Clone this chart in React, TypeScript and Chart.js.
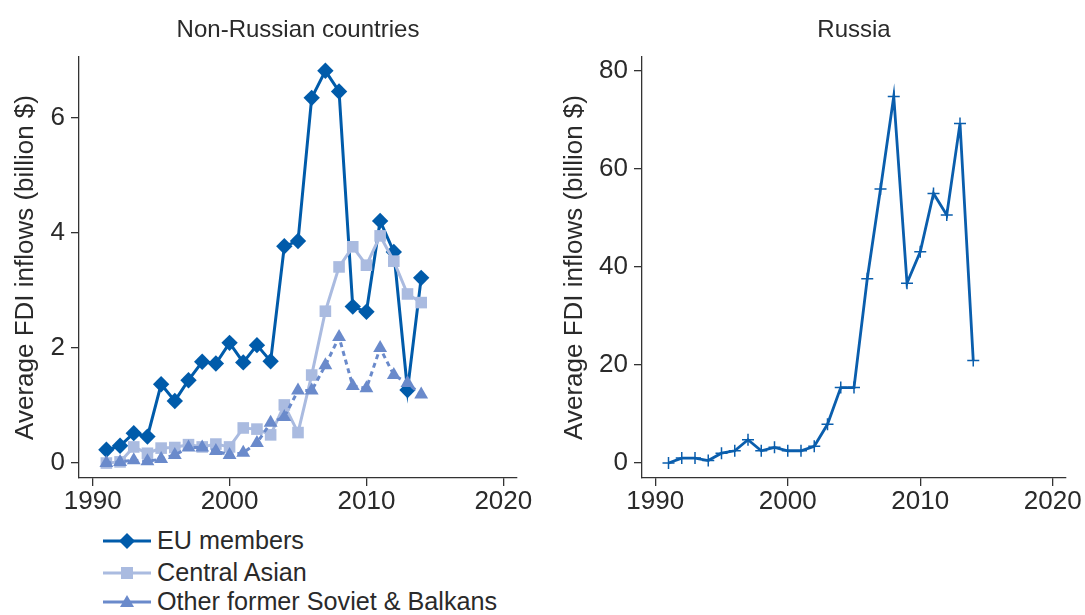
import React, { useEffect, useRef } from "react";
import { Chart, registerables } from "chart.js";

Chart.register(...registerables);

const years = [1991, 1992, 1993, 1994, 1995, 1996, 1997, 1998, 1999, 2000, 2001, 2002, 2003, 2004, 2005, 2006, 2007, 2008, 2009, 2010, 2011, 2012, 2013, 2014];
const euMembers = [0.23, 0.3, 0.52, 0.46, 1.37, 1.08, 1.44, 1.76, 1.73, 2.09, 1.75, 2.05, 1.77, 3.77, 3.86, 6.35, 6.82, 6.46, 2.72, 2.63, 4.21, 3.67, 1.27, 3.22];
const centralAsian = [0.0, 0.02, 0.28, 0.17, 0.26, 0.27, 0.32, 0.28, 0.33, 0.28, 0.61, 0.59, 0.49, 1.01, 0.53, 1.53, 2.64, 3.41, 3.76, 3.44, 3.95, 3.51, 2.94, 2.79];
const otherFormerSoviet = [0.0, 0.02, 0.05, 0.03, 0.07, 0.14, 0.27, 0.27, 0.21, 0.14, 0.18, 0.35, 0.7, 0.8, 1.26, 1.26, 1.7, 2.19, 1.34, 1.3, 2.0, 1.53, 1.39, 1.19];
const russia = [0.0, 1.0, 1.0, 0.5, 2.0, 2.5, 4.75, 2.5, 3.2, 2.5, 2.5, 3.4, 7.9, 15.4, 15.4, 37.6, 55.9, 74.8, 36.7, 43.1, 55.0, 50.6, 69.3, 20.9];

const xTickValues = [1990, 2000, 2010, 2020];
const leftYTicks = [0, 2, 4, 6];
const rightYTicks = [0, 20, 40, 60, 80];

const leftTitle = "Non-Russian countries";
const rightTitle = "Russia";
const yAxisTitle = "Average FDI inflows (billion $)";
const legendLabels = ["EU members", "Central Asian", "Other former Soviet & Balkans"];

const EU_COLOR = "#005BAA";
const CA_COLOR = "#AABBE0";
const OT_COLOR = "#6A8ACB";
const RU_COLOR = "#0A5EAD";
const TEXT = "#2a2a2a";
const AXIS = "#333333";
const FONT = "'Liberation Sans', Arial, sans-serif";

const toPoints = (vals: number[]) => years.map((y, i) => ({ x: y, y: vals[i] }));

function makeScales(yMin: number, yMax: number, yTicks: number[], yWidth: number, titlePad: number) {
  return {
    x: {
      type: "linear" as const,
      min: 1989,
      max: 2021,
      afterBuildTicks: (s: any) => {
        s.ticks = xTickValues.map((v) => ({ value: v }));
      },
      afterFit: (s: any) => {
        s.height = 42;
      },
      grid: { display: true, drawOnChartArea: false, drawTicks: true, tickLength: 8, color: AXIS, lineWidth: 1.3 },
      border: { display: true, color: AXIS, width: 1.3 },
      ticks: { color: TEXT, font: { family: FONT, size: 26 }, padding: 0, maxRotation: 0, autoSkip: false, callback: (v: any) => String(v) },
    },
    y: {
      type: "linear" as const,
      min: yMin,
      max: yMax,
      afterBuildTicks: (s: any) => {
        s.ticks = yTicks.map((v) => ({ value: v }));
      },
      afterFit: (s: any) => {
        s.width = yWidth;
      },
      grid: { display: true, drawOnChartArea: false, drawTicks: true, tickLength: 8, color: AXIS, lineWidth: 1.3 },
      border: { display: true, color: AXIS, width: 1.3 },
      ticks: { color: TEXT, font: { family: FONT, size: 26 }, padding: 6, autoSkip: false, callback: (v: any) => String(v) },
      title: { display: true, text: yAxisTitle, color: TEXT, font: { family: FONT, size: 26 }, padding: { top: titlePad, bottom: 0 } },
    },
  };
}

function titleOpts(text: string) {
  return {
    display: true,
    text,
    color: TEXT,
    fullSize: false,
    font: { family: FONT, size: 24, weight: "normal" as const },
    padding: { top: 16, bottom: 12.2 },
  };
}

function LeftChart() {
  const ref = useRef<HTMLCanvasElement>(null);
  useEffect(() => {
    const chart = new Chart(ref.current!, {
      type: "line",
      data: {
        datasets: [
          {
            label: legendLabels[2],
            data: toPoints(otherFormerSoviet),
            borderColor: OT_COLOR,
            backgroundColor: OT_COLOR,
            borderWidth: 3,
            borderDash: [5, 4],
            pointStyle: "triangle",
            pointRadius: 8,
            pointBorderWidth: 0,
            order: 0,
          },
          {
            label: legendLabels[1],
            data: toPoints(centralAsian),
            borderColor: CA_COLOR,
            backgroundColor: CA_COLOR,
            borderWidth: 3,
            pointStyle: "rect",
            pointRadius: 8.2,
            pointBorderWidth: 0,
            order: 1,
          },
          {
            label: legendLabels[0],
            data: toPoints(euMembers),
            borderColor: EU_COLOR,
            backgroundColor: EU_COLOR,
            borderWidth: 3,
            pointStyle: "rectRot",
            pointRadius: 8.2,
            pointBorderWidth: 0,
            order: 2,
          },
        ],
      },
      options: {
        animation: false,
        responsive: false,
        maintainAspectRatio: false,
        layout: { padding: { left: 0, right: 23, top: 0, bottom: 0 } },
        plugins: { legend: { display: false }, tooltip: { enabled: false }, title: titleOpts(leftTitle) },
        scales: makeScales(-0.26, 7.06, leftYTicks, 79, 10.4) as any,
      },
    });
    return () => chart.destroy();
  }, []);
  return <canvas ref={ref} width={540} height={520} style={{ position: "absolute", left: 0, top: 0, width: 540, height: 520 }} />;
}

function RightChart() {
  const ref = useRef<HTMLCanvasElement>(null);
  useEffect(() => {
    const chart = new Chart(ref.current!, {
      type: "line",
      data: {
        datasets: [
          {
            label: rightTitle,
            data: toPoints(russia),
            borderColor: RU_COLOR,
            backgroundColor: RU_COLOR,
            borderWidth: 2.8,
            pointStyle: "cross",
            pointRadius: 6,
            pointBorderWidth: 1.5,
          },
        ],
      },
      options: {
        animation: false,
        responsive: false,
        maintainAspectRatio: false,
        layout: { padding: { left: 0, right: 19, top: 0, bottom: 0 } },
        plugins: { legend: { display: false }, tooltip: { enabled: false }, title: titleOpts(rightTitle) },
        scales: makeScales(-3.06, 82.85, rightYTicks, 102, 19.4) as any,
      },
    });
    return () => chart.destroy();
  }, []);
  return <canvas ref={ref} width={545} height={520} style={{ position: "absolute", left: 540, top: 0, width: 545, height: 520 }} />;
}

function LegendIcon({ color, shape }: { color: string; shape: string }) {
  let marker: React.ReactNode = null;
  if (shape === "diamond") marker = <polygon points="24,2 32,10 24,18 16,10" fill={color} />;
  if (shape === "square") marker = <rect x={18} y={4} width={12} height={12} fill={color} />;
  if (shape === "triangle") marker = <polygon points="24,3 31,15 17,15" fill={color} />;
  return (
    <svg width={48} height={20} style={{ display: "block" }}>
      <line x1={0} y1={10} x2={48} y2={10} stroke={color} strokeWidth={3} />
      {marker}
    </svg>
  );
}

function Legend() {
  const items = [
    { label: legendLabels[0], color: EU_COLOR, shape: "diamond", y: 540.5 },
    { label: legendLabels[1], color: CA_COLOR, shape: "square", y: 572.5 },
    { label: legendLabels[2], color: OT_COLOR, shape: "triangle", y: 601.5 },
  ];
  return (
    <>
      {items.map((it) => (
        <div
          key={it.label}
          style={{
            position: "absolute",
            left: 103,
            top: it.y - 15,
            height: 30,
            display: "flex",
            alignItems: "center",
            fontFamily: FONT,
            fontSize: 25.2,
            color: TEXT,
            whiteSpace: "nowrap",
          }}
        >
          <LegendIcon color={it.color} shape={it.shape} />
          <span style={{ marginLeft: 6 }}>{it.label}</span>
        </div>
      ))}
    </>
  );
}

export default function App() {
  return (
    <div style={{ position: "fixed", left: 0, top: 0, width: 1085, height: 615, background: "#fff", overflow: "hidden" }}>
      <LeftChart />
      <RightChart />
      <Legend />
    </div>
  );
}
